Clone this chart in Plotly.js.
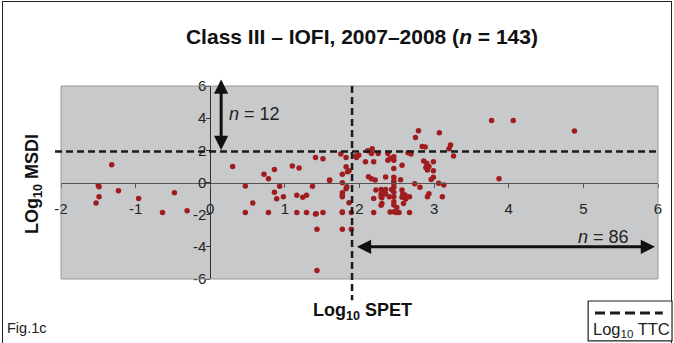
<!DOCTYPE html>
<html>
<head>
<meta charset="utf-8">
<script src="https://cdn.plot.ly/plotly-3.0.1.min.js"></script>
<style>
  html, body { margin: 0; padding: 0; background: #fff; }
  #frame { position: absolute; left: 2px; top: 1px; width: 670px; height: 360px;
           border: 1.5px solid #222; box-sizing: border-box; }
  #chart { position: absolute; left: 0; top: 0; width: 674px; height: 343px; }
</style>
</head>
<body>
<div id="frame"></div>
<div id="chart"></div>
<script>
// Log10 SPET (x) and Log10 MSDI (y) for the 143 Class III substances
const spet = [
  -1.32, -1.50, -1.49, -1.49, -1.53, -1.23, -0.96, -0.64, -0.48, -0.31,
  0.30, 0.47, 0.57, 0.47, 0.72, 0.78, 0.86, 0.86, 0.89, 0.93,
  0.98, 0.78, 1.10, 1.19, 1.16, 1.24, 1.29, 1.37, 1.16, 1.29,
  1.41, 1.51, 1.43, 1.43, 1.41, 1.51, 1.60, 1.75, 1.82, 1.77,
  1.82, 1.86, 1.77, 1.82, 1.77, 1.77, 1.86, 1.77, 1.89, 1.77,
  1.89, 1.83, 1.77, 1.84, 1.60, 1.77, 1.42,
  1.95, 1.99, 2.08, 2.11, 2.17, 2.16, 2.19, 2.25, 2.38, 2.41,
  2.38, 2.46, 2.46, 2.46, 2.57, 2.12, 2.16, 2.21, 2.35, 2.46,
  2.46, 2.55, 2.29, 2.35, 2.43, 2.29, 2.35, 2.29, 2.19, 2.40,
  2.46, 2.46, 2.46, 2.29, 2.46, 2.50, 2.49, 2.53, 2.19, 2.41,
  2.57, 2.58, 2.57, 2.61, 2.67, 2.59, 2.67, 2.65, 2.69, 2.75,
  2.79, 2.84, 2.88, 2.86, 2.90, 2.99, 2.89, 2.93, 2.91, 2.99,
  2.96, 2.99, 2.74, 2.81, 3.06, 3.13, 2.93, 2.91, 3.11, 3.07,
  3.22, 3.20, 3.26, 3.77, 4.06, 4.88, 3.87, 1.96, 2.30, 2.46,
  2.46, 2.46, 2.33, 2.22, 2.62, 2.30
];
const msdi = [
  1.10, -0.18, -0.27, -0.89, -1.28, -0.51, -0.99, -1.86, -0.64, -1.76,
  1.00, -0.22, -1.28, -1.86, 0.52, 0.23, 0.81, -0.60, -1.01, -0.24,
  -0.89, -1.86, 1.02, 0.90, -0.80, -0.91, -0.80, -0.24, -1.86, -1.86,
  -1.96, -1.86, -2.90, -5.47, 1.56, 1.48, 0.15, 1.77, 1.56, 0.52,
  0.98, 0.73, -0.02, -0.39, -0.64, -0.89, -1.26, -1.86, -1.86, -2.90,
  -2.90, -0.27, -0.78, 0.67, 0.12, -1.84, -1.94,
  1.64, 1.70, 1.29, 1.97, 2.10, 1.81, 1.29, 1.81, 1.81, 1.50,
  1.39, 1.60, 1.39, 0.87, 1.08, 0.35, 0.23, 0.15, 0.34, 0.32,
  -0.07, 0.17, -0.43, -0.43, -0.43, -0.72, -0.72, -0.89, -0.99, -0.89,
  -0.89, -0.60, -1.20, -1.41, -1.82, -1.55, -1.86, -1.86, -1.86, -1.84,
  -0.47, -0.72, -0.91, -0.78, -0.89, -1.30, -1.86, 1.85, 1.77, 2.80,
  3.22, 2.24, 2.20, 1.33, 1.19, 1.29, 0.94, 1.00, 0.77, 0.73,
  0.19, 0.33, -0.08, -0.29, -0.04, -0.15, -0.70, -0.89, -0.89, 3.09,
  2.33, 2.10, 1.64, 3.86, 3.86, 3.20, 0.23, 1.56, -1.30, -0.30,
  0.10, -1.40, -0.60, -0.47, -1.02, -0.95
];

// Log10 TTC thresholds drawn as dashed reference lines
const ttcSpet = [1.9];
const ttcMsdi = [1.93];

// Counts shown beside the arrows
const countAbove = [12];
const countRight = [86];

const xTicks = [-2, -1, 0, 1, 2, 3, 4, 5, 6];
const yTicks = [-6, -4, -2, 0, 2, 4, 6];

const FONT = 'Liberation Sans, Arial, Helvetica, sans-serif';
const DASH = '7px,4px';

const trace = {
  x: spet, y: msdi, type: 'scatter', mode: 'markers',
  marker: { color: '#a01d1f', size: 5.5, line: { width: 0 } },
  hoverinfo: 'x+y'
};

const layout = {
  width: 674, height: 343,
  margin: { l: 61, r: 16, t: 86, b: 64, pad: 0 },
  paper_bgcolor: 'rgba(0,0,0,0)',
  plot_bgcolor: '#c8c9cb',
  showlegend: false,
  font: { family: FONT, color: '#222', size: 14 },
  title: {
    text: '<b>Class III – IOFI, 2007–2008 (<i>n</i> = 143)</b>',
    font: { family: FONT, size: 21, color: '#111' },
    x: 0.537, xanchor: 'center', y: 0.892, yanchor: 'middle'
  },
  xaxis: {
    range: [-2, 6], anchor: 'free', position: 0.5,
    tickvals: xTicks, ticktext: xTicks.map(String),
    showline: true, linecolor: '#555', linewidth: 1,
    ticks: 'outside', ticklen: 4, tickcolor: '#555', tickwidth: 1,
    showgrid: false, zeroline: false,
    tickfont: { size: 15, color: '#222' },
    ticklabelstandoff: 8
  },
  yaxis: {
    range: [-6, 6], anchor: 'free', position: 0.25,
    tickvals: yTicks, ticktext: yTicks.map(String),
    showline: true, linecolor: '#333', linewidth: 1,
    ticks: 'outside', ticklen: 4, tickcolor: '#333', tickwidth: 1,
    showgrid: false, zeroline: false,
    tickfont: { size: 15, color: '#222' },
    ticklabelstandoff: -3
  },
  shapes: [
    // plot area frame
    { type: 'rect', xref: 'paper', yref: 'paper', x0: 0, x1: 1, y0: 0, y1: 1,
      line: { color: '#9a9a9a', width: 1 }, layer: 'above' },
    // vertical TTC line
    { type: 'line', xref: 'x', yref: 'paper', x0: ttcSpet[0], x1: ttcSpet[0], y0: 1, y1: -0.11,
      line: { color: '#1a1a1a', width: 2.5, dash: DASH } },
    // horizontal TTC line
    { type: 'line', xref: 'paper', yref: 'y', x0: -0.01, x1: 1, y0: ttcMsdi[0], y1: ttcMsdi[0],
      line: { color: '#1a1a1a', width: 2.5, dash: DASH } },
    // key box
    { type: 'rect', xref: 'paper', yref: 'paper', x0: 0.883, x1: 1.0235, y0: -0.321, y1: -0.114,
      line: { color: '#222', width: 1.2 }, fillcolor: '#fff' },
    { type: 'line', xref: 'paper', yref: 'paper', x0: 0.8945, x1: 1.008, y0: -0.176, y1: -0.176,
      line: { color: '#1a1a1a', width: 3, dash: '10px,5px' } }
  ],
  annotations: [
    // double arrow spanning the region above the MSDI threshold
    { xref: 'x', yref: 'y', axref: 'x', ayref: 'y',
      x: 0.146, y: 6.4, ax: 0.146, ay: ttcMsdi[0], text: '',
      showarrow: true, arrowside: 'end+start', arrowhead: 2, startarrowhead: 2,
      arrowsize: 0.95, startarrowsize: 0.95, arrowwidth: 3, arrowcolor: '#111' },
    // double arrow spanning the region right of the SPET threshold
    { xref: 'x', yref: 'y', axref: 'x', ayref: 'y',
      x: 5.96, y: -4.0, ax: 1.945, ay: -4.0, text: '',
      showarrow: true, arrowside: 'end+start', arrowhead: 2, startarrowhead: 2,
      arrowsize: 0.95, startarrowsize: 0.95, arrowwidth: 3, arrowcolor: '#111' },
    { xref: 'x', yref: 'y', x: 0.23, y: 4.25, xanchor: 'left', yanchor: 'middle',
      text: '<i>n</i> = ' + countAbove[0], showarrow: false,
      font: { size: 18, color: '#222' } },
    { xref: 'x', yref: 'y', x: 5.64, y: -3.38, xanchor: 'right', yanchor: 'middle',
      text: '<i>n</i> = ' + countRight[0], showarrow: false,
      font: { size: 18, color: '#222' } },
    // axis titles
    { xref: 'paper', yref: 'paper', x: -0.046, y: 0.49, textangle: -90,
      xanchor: 'center', yanchor: 'middle', showarrow: false,
      text: '<b>LOg<sub>10</sub> MSDI</b>', font: { size: 18, color: '#111' } },
    { xref: 'paper', yref: 'paper', x: 0.505, y: -0.166,
      xanchor: 'center', yanchor: 'middle', showarrow: false,
      text: '<b>Log<sub>10</sub> SPET</b>', font: { size: 18, color: '#111' } },
    // figure tag and key label
    { xref: 'paper', yref: 'paper', x: -0.0938, y: -0.254,
      xanchor: 'left', yanchor: 'middle', showarrow: false,
      text: 'Fig.1c', font: { size: 14.5, color: '#222' } },
    { xref: 'paper', yref: 'paper', x: 0.955, y: -0.264,
      xanchor: 'center', yanchor: 'middle', showarrow: false,
      text: 'Log<sub>10</sub> TTC', font: { size: 16.5, color: '#222' } }
  ]
};

Plotly.newPlot('chart', [trace], layout, { displayModeBar: false, staticPlot: true });
</script>
</body>
</html>
